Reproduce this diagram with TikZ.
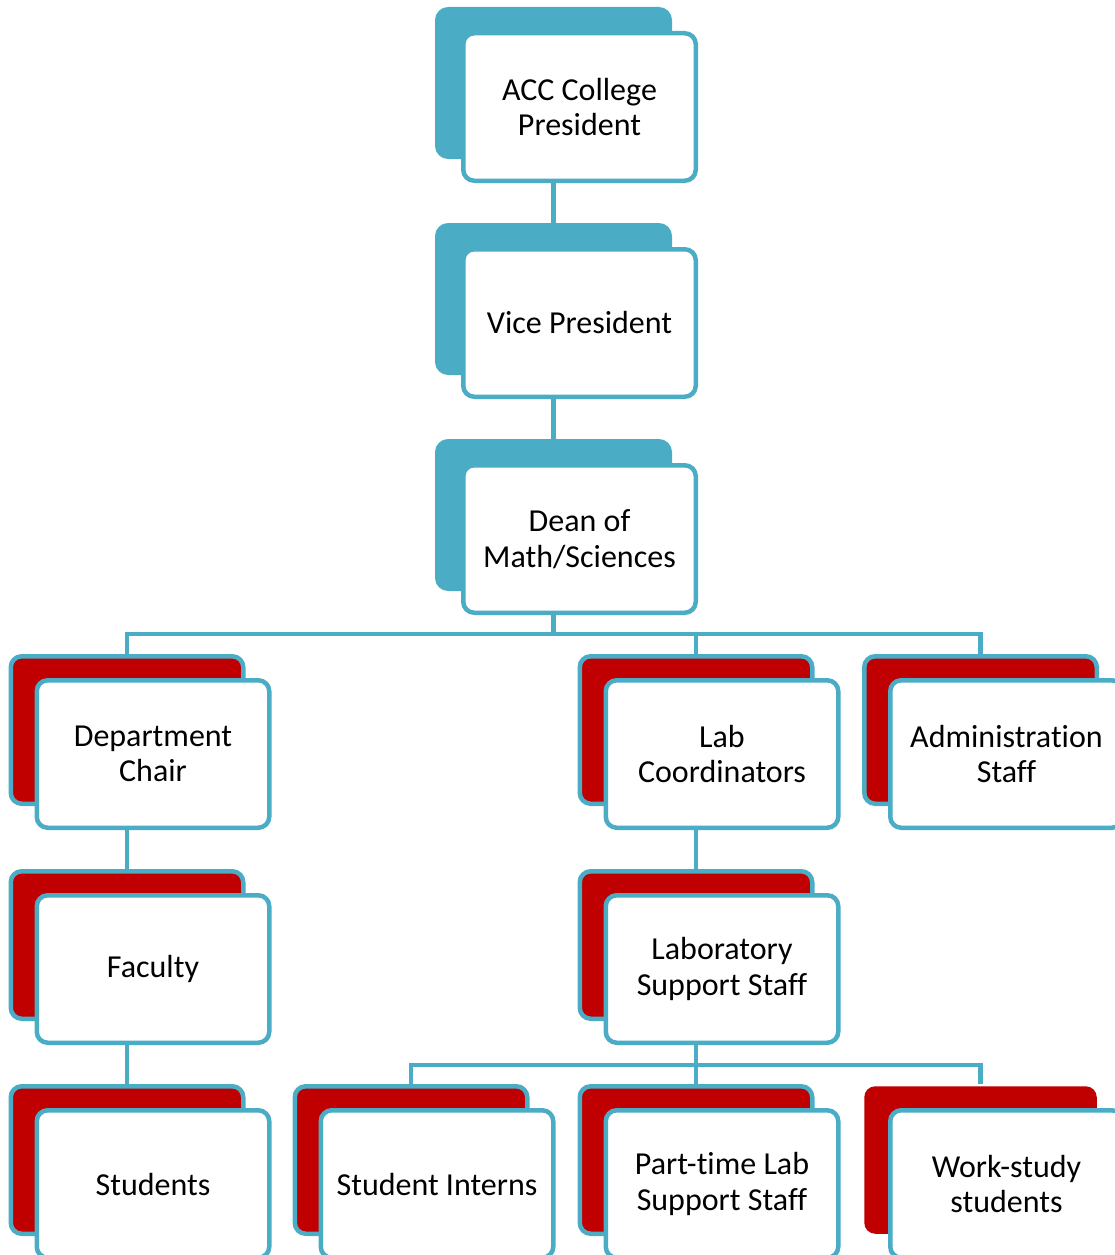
\documentclass[tikz,border=0pt]{standalone}
\usepackage{fontspec}
\setmainfont{Carlito}[Ligatures=NoCommon]
\usetikzlibrary{backgrounds}
\definecolor{tealA}{HTML}{4BACC6}
\definecolor{redA}{HTML}{C00000}
\tikzset{
  box/.style={rectangle, rounded corners=11pt, line width=4.5pt, minimum width=232.5pt, minimum height=147.5pt, inner sep=0pt, align=center, font=\fontsize{32}{35.5}\selectfont},
  front/.style={box, draw=tealA, fill=white},
  backblue/.style={box, draw=tealA, fill=tealA},
  backred/.style={box, draw=tealA, fill=redA},
  backplain/.style={box, fill=redA},
  conn/.style={draw=tealA, line width=4.5pt},
}
\begin{document}
\begin{tikzpicture}[x=1pt, y=-1pt]
\useasboundingbox (0,0) rectangle (1114,1255);
\node[backblue] (presb) at (553.5,83) {};
\node[front] (pres) at (579.5,107) {ACC College\\President};
\node[backblue] (vpb) at (553.5,299) {};
\node[front] (vp) at (579.5,323) {Vice President};
\node[backblue] (deanb) at (553.5,515) {};
\node[front] (dean) at (579.5,539) {Dean of\\Math/Sciences};

\node[backred] (deptb) at (127,730) {};
\node[front] (dept) at (153,754) {Department\\Chair};
\node[backred] (labb) at (696,730) {};
\node[front] (lab) at (722,754) {Lab\\Coordinators};
\node[backred] (adminb) at (980.5,730) {};
\node[front] (admin) at (1006.5,754) {Administration\\Staff};

\node[backred] (facb) at (127,945) {};
\node[front] (fac) at (153,969) {Faculty};
\node[backred] (labsupb) at (696,945) {};
\node[front] (labsup) at (722,969) {Laboratory\\Support Staff};

\node[backred] (studb) at (127,1160) {};
\node[front] (stud) at (153,1184) {Students};
\node[backred] (internb) at (411,1160) {};
\node[front] (intern) at (437,1184) {Student Interns};
\node[backred] (partb) at (696,1160) {};
\node[front] (part) at (722,1184) {Part-time Lab\\Support Staff};
\node[backplain] (workb) at (980.5,1160) {};
\node[front] (work) at (1006.5,1184) {Work-study\\students};

\coordinate (busA) at (553.5,634);
\coordinate (busB) at (696,1065);

\begin{scope}[on background layer]
  \draw[conn] (presb |- pres.south) -- (vpb.north);
  \draw[conn] (vpb |- vp.south) -- (deanb.north);
  \draw[conn] (deanb |- dean.south) -- (busA);
  \draw[conn] (deptb.north) -- (deptb |- busA) -- (adminb |- busA) -- (adminb.north);
  \draw[conn] (labb.north) -- (labb |- busA);
  \draw[conn] (deptb |- dept.south) -- (facb.north);
  \draw[conn] (facb |- fac.south) -- (studb.north);
  \draw[conn] (labb |- lab.south) -- (labsupb.north);
  \draw[conn] (labsupb |- labsup.south) -- (busB);
  \draw[conn] (internb.north) -- (internb |- busB) -- (workb |- busB) -- (workb.north);
  \draw[conn] (partb.north) -- (partb |- busB);
\end{scope}
\end{tikzpicture}
\end{document}
